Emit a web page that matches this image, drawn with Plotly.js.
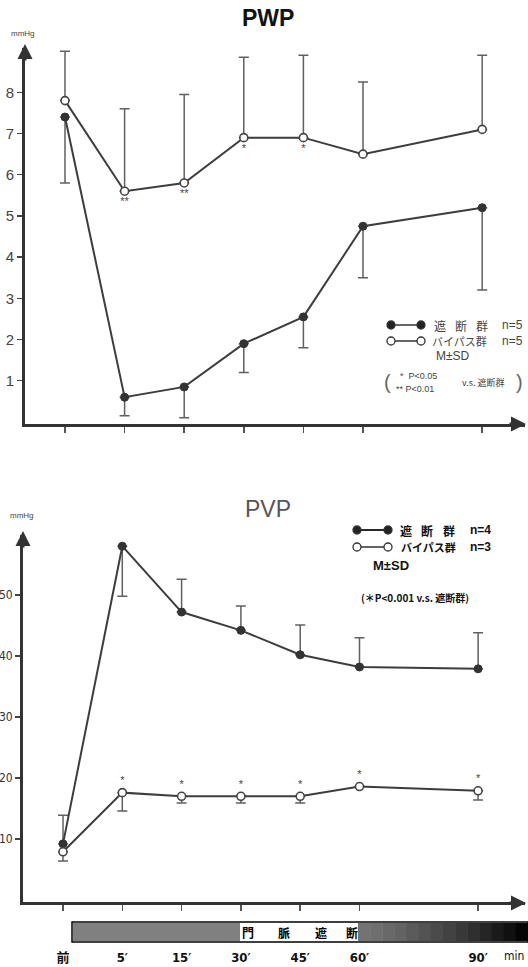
<!DOCTYPE html>
<html>
<head>
<meta charset="utf-8">
<script src="https://cdn.plot.ly/plotly-3.0.1.min.js"></script>
<style>html,body{margin:0;padding:0;background:#fff;}#chart{width:528px;height:967px;}</style>
</head>
<body>
<div id="chart"></div>
<script>
// ---- data ----
const timeLabels = ['前', '5′', '15′', '30′', '45′', '60′', '90′'];
const timePos = [0, 1, 2, 3, 4, 5, 7];

// PWP (mmHg)
const pwpOcc = [7.4, 0.6, 0.85, 1.9, 2.55, 4.75, 5.2];        // 遮断群 mean
const pwpOccSD = [1.6, 0.45, 0.75, 0.7, 0.75, 1.25, 2.0];     // drawn downward
const pwpByp = [7.8, 5.6, 5.8, 6.9, 6.9, 6.5, 7.1];           // バイパス群 mean
const pwpBypSD = [1.2, 2.0, 2.15, 1.95, 2.0, 1.75, 1.8];      // drawn upward
const pwpSig = ['', '**', '**', '*', '*', '', ''];
const pwpTicks = [1, 2, 3, 4, 5, 6, 7, 8];

// PVP (mmHg)
const pvpOcc = [9.2, 58.0, 47.2, 44.2, 40.2, 38.2, 37.9];
const pvpOccUp = [4.7, 0, 5.4, 4.0, 4.9, 4.8, 5.9];
const pvpOccDown = [0, 8.2, 0, 0, 0, 0, 0];
const pvpByp = [7.9, 17.6, 17.0, 17.0, 17.0, 18.6, 17.9];
const pvpBypDown = [1.5, 3.0, 1.1, 1.1, 1.1, 0, 1.5];
const pvpSig = ['', '*', '*', '*', '*', '*', '*'];
const pvpTicks = [10, 20, 30, 40, 50];

const barLabels = ['門', '脈', '遮', '断'];

// ---- helpers ----
const W = 528, H = 967;
const X = px => px / W;
const Y = py => 1 - py / H;
const zeros = a => a.map(() => 0);

const LINE = '#3d3d3d';
const ERR = '#606060';
const JP = '"Noto Sans CJK JP", "DejaVu Sans", sans-serif';
const SANS = '"Liberation Sans", Arial, "Noto Sans CJK JP", sans-serif';
const COND = '"DejaVu Sans Condensed", "Liberation Sans Narrow", "Noto Sans CJK JP", sans-serif';

function occTrace(x, y, up, down, xa, ya) {
  return {
    x: x, y: y, xaxis: xa, yaxis: ya, type: 'scatter', mode: 'lines+markers',
    line: {color: LINE, width: 2},
    marker: {color: '#333', size: 8, line: {color: '#333', width: 1}},
    error_y: {type: 'data', symmetric: false, array: up, arrayminus: down,
              color: ERR, thickness: 1.5, width: 5},
    hoverinfo: 'skip'
  };
}
function bypTrace(x, y, up, down, sig, pos, xa, ya) {
  return {
    x: x, y: y, xaxis: xa, yaxis: ya, type: 'scatter', mode: 'lines+markers+text',
    line: {color: LINE, width: 2},
    marker: {color: '#ffffff', size: 8, line: {color: '#444', width: 1.6}},
    text: sig, textposition: pos,
    textfont: {family: SANS, size: 11, color: '#444'},
    error_y: {type: 'data', symmetric: false, array: up, arrayminus: down,
              color: ERR, thickness: 1.5, width: 5},
    hoverinfo: 'skip', cliponaxis: false
  };
}

const data = [
  occTrace(timePos, pwpOcc, zeros(pwpOcc), pwpOccSD, 'x', 'y'),
  bypTrace(timePos, pwpByp, pwpBypSD, zeros(pwpByp), pwpSig, 'bottom center', 'x', 'y'),
  occTrace(timePos, pvpOcc, pvpOccUp, pvpOccDown, 'x2', 'y2'),
  bypTrace(timePos, pvpByp, zeros(pvpByp), pvpBypDown, pvpSig, 'top center', 'x2', 'y2')
];

// ---- axes ----
const axLine = {showline: true, linewidth: 3, linecolor: '#333', showgrid: false, zeroline: false, fixedrange: true, automargin: false};

const layout = {
  width: W, height: H,
  margin: {l: 0, r: 0, t: 0, b: 0},
  paper_bgcolor: '#fff', plot_bgcolor: '#fff',
  showlegend: false,
  xaxis: Object.assign({}, axLine, {
    domain: [X(25), X(525)], range: [(25 - 65) / 59.6, (525 - 65) / 59.6],
    tickvals: timePos, showticklabels: false,
    ticks: 'outside', ticklen: 6, tickwidth: 1.5, tickcolor: '#555', anchor: 'y'
  }),
  yaxis: Object.assign({}, axLine, {
    domain: [Y(424), Y(48)], range: [-0.05, -0.05 + 376 / 41.2],
    tickvals: pwpTicks, ticktext: pwpTicks.map(String),
    ticks: 'outside', ticklen: 5, tickwidth: 1.5, tickcolor: '#444',
    tickfont: {family: SANS, size: 15, color: '#444'}, anchor: 'x'
  }),
  xaxis2: Object.assign({}, axLine, {
    domain: [X(23), X(525)], range: [(23 - 63) / 59.3, (525 - 63) / 59.3],
    tickvals: timePos, ticktext: timeLabels.map(t => '<b>' + t + '</b>'),
    ticks: 'outside', ticklen: 6, tickwidth: 1.5, tickcolor: '#555',
    tickfont: {family: COND, size: 13, color: '#111'},
    ticklabelstandoff: 35, anchor: 'y2'
  }),
  yaxis2: Object.assign({}, axLine, {
    domain: [Y(902), Y(535)], range: [-0.33, -0.33 + 367 / 6.1],
    tickvals: pvpTicks, ticktext: pvpTicks.map(String),
    ticks: 'outside', ticklen: 5, tickwidth: 1.5, tickcolor: '#444',
    tickfont: {family: COND, size: 12, color: '#333'}, anchor: 'x2'
  }),
  shapes: [],
  annotations: []
};

const A = layout.annotations, S = layout.shapes;
function txt(text, px, py, size, opts) {
  A.push(Object.assign({text: text, x: X(px), y: Y(py), xref: 'paper', yref: 'paper',
    xanchor: 'center', yanchor: 'middle',
    showarrow: false, font: {family: JP, size: size, color: '#222'}}, opts || {}));
}
function arrow(px, py, ax, ay) {
  A.push({text: '', x: X(px), y: Y(py), xref: 'paper', yref: 'paper', showarrow: true,
    ax: ax, ay: ay, arrowhead: 2, arrowsize: 1, arrowwidth: 3, arrowcolor: '#333'});
}
function dot(px, py, filled) {
  S.push({type: 'circle', xref: 'paper', yref: 'paper', x0: X(px - 4), x1: X(px + 4),
    y0: Y(py + 4), y1: Y(py - 4), fillcolor: filled ? '#222' : '#fff',
    line: {color: '#333', width: 1.3}});
}
function hline(x0, x1, py, w, c) {
  S.push({type: 'line', xref: 'paper', yref: 'paper', x0: X(x0), x1: X(x1), y0: Y(py), y1: Y(py),
    line: {color: c || '#333', width: w || 1.5}});
}
function rect(x0, x1, y0, y1, fill, lineW) {
  S.push({type: 'rect', xref: 'paper', yref: 'paper', x0: X(x0), x1: X(x1), y0: Y(y1), y1: Y(y0),
    fillcolor: fill, line: {width: lineW || 0, color: '#000'}, layer: 'above'});
}

// titles and units
txt('<b>PWP</b>', 268, 18, 23, {font: {family: SANS, size: 23, color: '#111'}});
txt('PVP', 268, 509, 23, {font: {family: SANS, size: 23, color: '#555'}});
txt('mmHg', 23, 33, 8, {font: {family: SANS, size: 8, color: '#444'}});
txt('mmHg', 22, 515, 8, {font: {family: SANS, size: 8, color: '#444'}});

// axis arrowheads
arrow(25, 44, 0, 18);
arrow(526, 424, -18, 0);
arrow(23, 531, 0, 18);
arrow(526, 903, -18, 0);

// top legend
const gT = {family: JP, size: 12, color: '#444'};
hline(391, 421, 325); dot(391, 325, true); dot(421, 325, true);
txt('遮', 440, 325, 12, {font: gT}); txt('断', 461, 325, 12, {font: gT}); txt('群', 482, 325, 12, {font: gT});
txt('n=5', 512, 325, 12, {font: {family: SANS, size: 12, color: '#444'}});
hline(391, 421, 341); dot(391, 341, false); dot(421, 341, false);
txt('バイパス群', 459, 341, 11, {font: {family: JP, size: 11, color: '#444'}});
txt('n=5', 512, 341, 12, {font: {family: SANS, size: 12, color: '#444'}});
txt('M±SD', 453, 356, 12, {font: {family: SANS, size: 12, color: '#444'}});
txt('*  P&lt;0.05', 398, 376, 9, {xanchor: 'left', font: {family: SANS, size: 9, color: '#444'}});
txt('** P&lt;0.01', 394, 389, 9, {xanchor: 'left', font: {family: SANS, size: 9, color: '#444'}});
txt('v.s. 遮断群', 483, 382, 9, {font: {family: JP, size: 9, color: '#444'}});
txt('(', 387, 382, 20, {font: {family: SANS, size: 20, color: '#666'}});
txt(')', 519, 382, 20, {font: {family: SANS, size: 20, color: '#666'}});

// bottom legend
const gB = {family: JP, size: 12, color: '#111'};
hline(357, 388, 530, 1.8, '#111'); dot(357, 530, true); dot(388, 530, true);
txt('<b>遮</b>', 406, 530, 12, {font: gB}); txt('<b>断</b>', 427, 530, 12, {font: gB}); txt('<b>群</b>', 449, 530, 12, {font: gB});
txt('<b>n=4</b>', 480, 530, 12, {font: {family: SANS, size: 12, color: '#111'}});
hline(357, 388, 547, 1.3, '#111'); dot(357, 547, false); dot(388, 547, false);
txt('<b>バイパス群</b>', 428, 547, 11, {font: {family: JP, size: 11, color: '#111'}});
txt('<b>n=3</b>', 480, 547, 12, {font: {family: SANS, size: 12, color: '#111'}});
txt('<b>M±SD</b>', 391, 565, 13, {font: {family: SANS, size: 13, color: '#111'}});
txt('<b>(＊P&lt;0.001 v.s. 遮断群)</b>', 415, 597, 10, {font: {family: JP, size: 10, color: '#111'}});

// occlusion bar under the bottom axis
rect(72, 528, 922, 942, '#ffffff', 1.5);
rect(73, 240, 923, 941, '#808080', 0);
const segN = 14, segX0 = 358, segX1 = 528;
for (let i = 0; i < segN; i++) {
  const a = segX0 + (segX1 - segX0) * i / segN, b = segX0 + (segX1 - segX0) * (i + 1) / segN + 0.5;
  const g = Math.round(115 - 110 * Math.pow(i / (segN - 1), 1.3));
  rect(a, Math.min(b, 528), 923, 941, 'rgb(' + g + ',' + g + ',' + g + ')', 0);
}
const barPx = [248, 284, 321, 352];
barLabels.forEach((t, i) => txt('<b>' + t + '</b>', barPx[i], 932, 12, {font: {family: JP, size: 12, color: '#000'}}));
txt('min', 514, 956, 12, {font: {family: COND, size: 12, color: '#111'}});

Plotly.newPlot('chart', data, layout, {staticPlot: true, displayModeBar: false});
</script>
</body>
</html>
